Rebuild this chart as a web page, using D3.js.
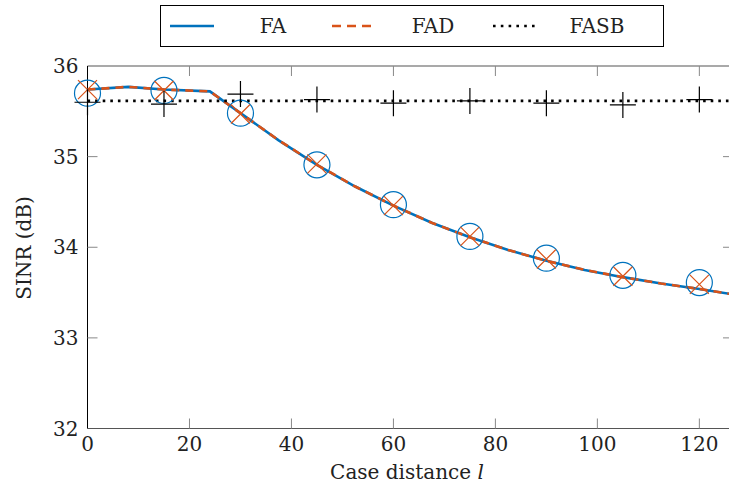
<!DOCTYPE html>
<html>
<head>
<meta charset="utf-8">
<script src="https://cdn.jsdelivr.net/npm/d3@7/dist/d3.min.js"></script>
<style>
  html, body { margin: 0; padding: 0; background: #fff; }
  text { font-family: "DejaVu Serif"; }
</style>
</head>
<body>
<div id="chart"></div>
<script>
// ---- data ----
const xLine   = [0, 8, 15, 24, 30, 37.5, 45, 52.5, 60, 67.5, 75, 82.5, 90, 97.5, 105, 112.5, 120, 126.6];
const faLine  = [35.74, 35.77, 35.74, 35.72, 35.48, 35.18, 34.91, 34.67, 34.46, 34.27, 34.11, 33.97, 33.85, 33.75, 33.67, 33.60, 33.54, 33.48];
const fadLine = [35.74, 35.77, 35.74, 35.72, 35.48, 35.18, 34.91, 34.67, 34.46, 34.27, 34.11, 33.97, 33.85, 33.75, 33.67, 33.60, 33.54, 33.48];
const xFasbLine = [0, 126.6];
const fasbLine  = [35.615, 35.615];

const xMarks    = [0, 15, 30, 45, 60, 75, 90, 105, 120];
const faMarks   = [35.70, 35.73, 35.48, 34.91, 34.47, 34.12, 33.88, 33.69, 33.61];
const fadMarks  = [35.74, 35.73, 35.47, 34.92, 34.46, 34.12, 33.87, 33.68, 33.59];
const fasbMarks = [35.60, 35.58, 35.69, 35.63, 35.59, 35.615, 35.59, 35.57, 35.63];

const xTicks = [0, 20, 40, 60, 80, 100, 120];
const yTicks = [32, 33, 34, 35, 36];

const COLORS = { fa: '#0072BD', fad: '#D95319', fasb: '#000' };
const FS = 20;

const W = 729, H = 494;
const m = { top: 66, left: 87.5, right: -4, bottom: 65.5 };
const w = W - m.left - m.right;
const h = H - m.top - m.bottom;

const svg = d3.select('#chart').append('svg')
  .attr('width', W).attr('height', H);

const x = d3.scaleLinear().domain([0, 126.6]).range([m.left, m.left + w]);
const y = d3.scaleLinear().domain([32, 36]).range([m.top + h, m.top]);

svg.append('clipPath').attr('id', 'clip')
  .append('rect').attr('x', m.left).attr('y', m.top).attr('width', w).attr('height', h);

// ---- frame + ticks ----
const frame = svg.append('g');
frame.append('line').attr('x1', m.left).attr('x2', m.left + w).attr('y1', m.top).attr('y2', m.top)
  .attr('stroke', '#555').attr('stroke-width', 1.2);
frame.append('line').attr('x1', m.left).attr('x2', m.left + w).attr('y1', m.top + h).attr('y2', m.top + h)
  .attr('stroke', '#555').attr('stroke-width', 1.2);
frame.append('line').attr('x1', m.left).attr('x2', m.left).attr('y1', m.top).attr('y2', m.top + h)
  .attr('stroke', '#000').attr('stroke-width', 1);

const TL = 10;
xTicks.filter(d => d > 0).forEach(d => {
  frame.append('line').attr('x1', x(d)).attr('x2', x(d)).attr('y1', m.top + h).attr('y2', m.top + h - TL)
    .attr('stroke', '#888').attr('stroke-width', 1);
  frame.append('line').attr('x1', x(d)).attr('x2', x(d)).attr('y1', m.top).attr('y2', m.top + TL)
    .attr('stroke', '#888').attr('stroke-width', 1);
});
yTicks.filter(d => d > 32 && d < 36).forEach(d => {
  frame.append('line').attr('x1', m.left).attr('x2', m.left + TL).attr('y1', y(d)).attr('y2', y(d))
    .attr('stroke', '#888').attr('stroke-width', 1);
  frame.append('line').attr('x1', m.left + w).attr('x2', m.left + w - TL).attr('y1', y(d)).attr('y2', y(d))
    .attr('stroke', '#888').attr('stroke-width', 1);
});

function txt(sel) {
  return sel.style('font-family', '"DejaVu Serif"').style('font-size', FS + 'px').attr('fill', '#222');
}

// tick labels
txt(svg.append('g').selectAll('text').data(xTicks).enter().append('text'))
  .attr('x', d => x(d)).attr('y', m.top + h + 22)
  .attr('text-anchor', 'middle')
  .text(d => d);
txt(svg.append('g').selectAll('text').data(yTicks).enter().append('text'))
  .attr('x', m.left - 9).attr('y', d => y(d) + 7)
  .attr('text-anchor', 'end')
  .text(d => d);

// axis titles
const xt = txt(svg.append('text'))
  .attr('x', 407).attr('y', 479)
  .attr('text-anchor', 'middle');
xt.append('tspan').text('Case distance ');
xt.append('tspan').style('font-style', 'italic').text('l');

txt(svg.append('text'))
  .attr('transform', 'translate(31,248) rotate(-90)')
  .attr('text-anchor', 'middle')
  .text('SINR (dB)');

// ---- series ----
const plot = svg.append('g').attr('clip-path', 'url(#clip)');
const lineGen = xs => d3.line().x((d, i) => x(xs[i])).y(d => y(d));

plot.append('path').datum(faLine)
  .attr('d', lineGen(xLine))
  .attr('fill', 'none').attr('stroke', COLORS.fa).attr('stroke-width', 2.6);

const marks = svg.append('g');
marks.selectAll('.fa-mark').data(faMarks).enter().append('circle')
  .attr('cx', (d, i) => x(xMarks[i])).attr('cy', d => y(d)).attr('r', 13)
  .attr('fill', 'none').attr('stroke', COLORS.fa).attr('stroke-width', 1.2);

plot.append('path').datum(fadLine)
  .attr('d', lineGen(xLine))
  .attr('fill', 'none').attr('stroke', COLORS.fad).attr('stroke-width', 2.6)
  .attr('stroke-dasharray', '8,6');

const xs = 9.5;
fadMarks.forEach((d, i) => {
  const cx = x(xMarks[i]), cy = y(d);
  marks.append('path')
    .attr('d', `M${cx - xs},${cy - xs}L${cx + xs},${cy + xs}M${cx - xs},${cy + xs}L${cx + xs},${cy - xs}`)
    .attr('stroke', COLORS.fad).attr('stroke-width', 1.2).attr('fill', 'none');
});

plot.append('path').datum(fasbLine)
  .attr('d', lineGen(xFasbLine))
  .attr('fill', 'none').attr('stroke', COLORS.fasb).attr('stroke-width', 2.6)
  .attr('stroke-dasharray', '2.6,5');

const ps = 13;
fasbMarks.forEach((d, i) => {
  const cx = x(xMarks[i]), cy = y(d);
  marks.append('path')
    .attr('d', `M${cx - ps},${cy}L${cx + ps},${cy}M${cx},${cy - ps}L${cx},${cy + ps}`)
    .attr('stroke', COLORS.fasb).attr('stroke-width', 1.2).attr('fill', 'none');
});

// ---- legend ----
const lg = svg.append('g');
lg.append('rect').attr('x', 160.5).attr('y', 5.5).attr('width', 503).attr('height', 41)
  .attr('fill', '#fff').attr('stroke', '#000').attr('stroke-width', 1);
const legendItems = [
  { label: 'FA',   color: COLORS.fa,   dash: null,      x1: 170, x2: 214, tx: 273 },
  { label: 'FAD',  color: COLORS.fad,  dash: '9,6',     x1: 332, x2: 372, tx: 433 },
  { label: 'FASB', color: COLORS.fasb, dash: '2.6,5.2', x1: 493, x2: 537, tx: 597 },
];
legendItems.forEach(it => {
  lg.append('line').attr('x1', it.x1).attr('x2', it.x2).attr('y1', 26).attr('y2', 26)
    .attr('stroke', it.color).attr('stroke-width', 2.6)
    .attr('stroke-dasharray', it.dash);
  txt(lg.append('text')).attr('x', it.tx).attr('y', 33)
    .attr('text-anchor', 'middle')
    .text(it.label);
});
</script>
</body>
</html>
